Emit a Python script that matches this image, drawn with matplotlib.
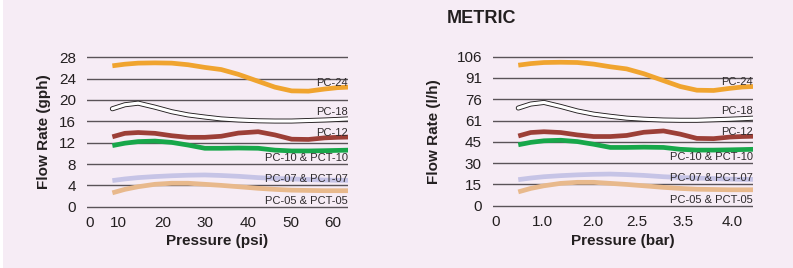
import matplotlib
matplotlib.use('Agg')
import matplotlib.pyplot as plt
from matplotlib.patches import Rectangle

plt.rcParams['font.family'] = ['Liberation Sans', 'DejaVu Sans']

# Flow curves (gph vs psi); the metric panel shows the
# same curves with l/h and bar tick labels.
psi = [8.7, 11.6, 14.7, 18.6, 22.5, 26.3, 30.2, 34, 38, 42.6, 46.5, 50.4, 54.3, 58.1, 61, 63.6]
pc24 = [26.4, 26.7, 26.9, 26.95, 26.9, 26.6, 26.1, 25.7, 24.8, 23.5, 22.4, 21.7, 21.65, 22.05, 22.3, 22.4]
pc18 = [18.35, 19.1, 19.4, 18.65, 17.8, 17.2, 16.8, 16.45, 16.25, 16.1, 16.05, 16.05, 16.15, 16.25, 16.35, 16.45]
pc12 = [13.1, 13.75, 13.9, 13.75, 13.3, 13.0, 13.0, 13.2, 13.8, 14.05, 13.45, 12.65, 12.6, 12.9, 13.0, 13.05]
pc10 = [11.45, 11.9, 12.2, 12.3, 12.05, 11.55, 10.95, 10.95, 11.0, 10.95, 10.6, 10.45, 10.45, 10.5, 10.55, 10.6]
pc07 = [4.9, 5.2, 5.45, 5.65, 5.8, 5.9, 5.95, 5.85, 5.7, 5.45, 5.3, 5.2, 5.1, 5.0, 4.95, 4.95]
pc05 = [2.6, 3.25, 3.75, 4.2, 4.4, 4.4, 4.2, 4.0, 3.75, 3.45, 3.25, 3.1, 3.05, 3.0, 3.0, 3.0]

gph_ticks = [0, 4, 8, 12, 16, 20, 24, 28]
gph_labels = ['0', '4', '8', '12', '16', '20', '24', '28']
lph_labels = ['0', '15', '30', '45', '61', '76', '91', '106']
psi_tick_pos = [3.3, 10, 20.5, 30.2, 40.2, 50.2, 60]
psi_labels = ['0', '10', '20', '30', '40', '50', '60']
bar_tick_pos = [3.3, 14.4, 26, 36.3, 47.2, 58.6]
bar_labels = ['0', '1.0', '2.0', '2.5', '3.5', '4.0']

names = ['PC-24', 'PC-18', 'PC-12', 'PC-10 & PCT-10', 'PC-07 & PCT-07', 'PC-05 & PCT-05']
name_y = [23.2, 17.8, 13.9, 9.1, 5.2, 1.1]
colors = ['#f0a42f', None, '#9c3f37', '#17a74a', '#c6c4e6', '#e8b98c']

bg = '#f6ecf5'
grid_c = '#5a5358'
text_c = '#231f20'

fig = plt.figure(figsize=(7.93, 2.68), dpi=100, facecolor='white')
fig.patches.append(Rectangle((3 / 793, 0), 1, 1, transform=fig.transFigure,
                             facecolor=bg, edgecolor='none', zorder=-10))

ax1 = fig.add_axes([87 / 793, 0.2187, 261 / 793, 0.5776])
ax2 = fig.add_axes([493 / 793, 0.2224, 260 / 793, 0.5761])


def draw(ax, xticks, xlabels, ylabels, xlabel, ylabel, ypad):
    ax.set_facecolor('none')
    for s in ax.spines.values():
        s.set_visible(False)
    for y in gph_ticks:
        ax.axhline(y, color=grid_c, lw=1.0, zorder=1)
    series = [pc24, pc18, pc12, pc10, pc07, pc05]
    for i, ys in enumerate(series):
        if colors[i] is None:
            ax.plot(psi, ys, color='#231f20', lw=3.6, solid_capstyle='round',
                    solid_joinstyle='round', zorder=3)
            ax.plot(psi, ys, color='white', lw=2.3, solid_capstyle='round',
                    solid_joinstyle='round', zorder=4)
        else:
            ax.plot(psi, ys, color=colors[i], lw=3.4, solid_capstyle='butt',
                    solid_joinstyle='round', zorder=3)
        ax.text(63.5, name_y[i], names[i], ha='right', va='center',
                fontsize=8, color='#2e2a2c', zorder=5)
    ax.set_xlim(2.8, 63.5)
    ax.set_ylim(-0.5, 28.5)
    ax.set_yticks(gph_ticks)
    ax.set_yticklabels(ylabels)
    ax.set_xticks(xticks)
    ax.set_xticklabels(xlabels)
    ax.tick_params(length=0, labelsize=11, colors=text_c, pad=5)
    ax.tick_params(axis='y', pad=8)
    ax.set_xlabel(xlabel, fontsize=11, fontweight='bold', color=text_c, labelpad=3)
    ax.set_ylabel(ylabel, fontsize=11, fontweight='bold', color=text_c, labelpad=ypad)


draw(ax1, psi_tick_pos, psi_labels, gph_labels, 'Pressure (psi)', 'Flow Rate (gph)', 6)
draw(ax2, bar_tick_pos, bar_labels, lph_labels, 'Pressure (bar)', 'Flow Rate (l/h)', 11)

fig.text(481.7 / 793, 1 - 18.7 / 268, 'METRIC', ha='center', va='center',
         fontsize=13, fontweight='bold', color=text_c)

fig.savefig('out.png', dpi=100, facecolor=fig.get_facecolor())
